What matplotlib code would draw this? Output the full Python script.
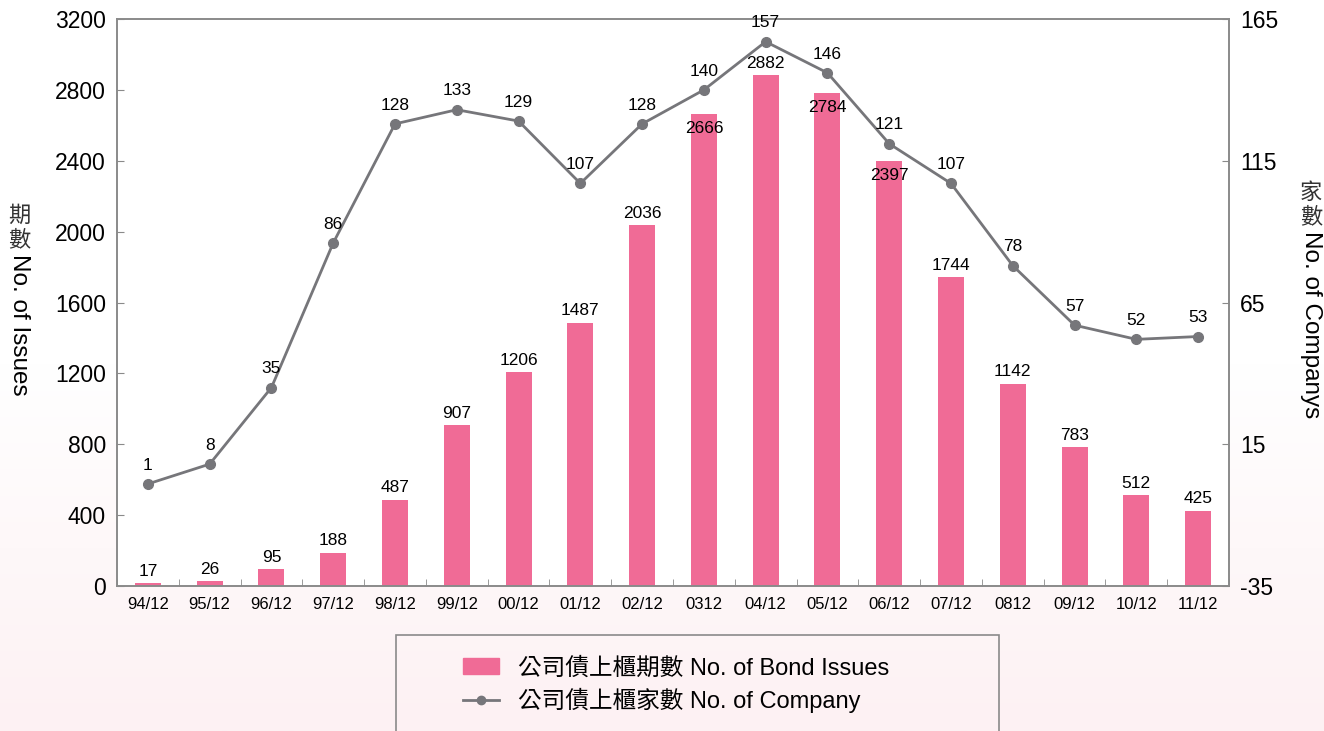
import numpy as np
import matplotlib.pyplot as plt
from matplotlib.patches import Rectangle
from matplotlib.lines import Line2D
from matplotlib.colors import LinearSegmentedColormap

plt.rcParams['font.family'] = ['Liberation Sans', 'Noto Sans CJK TC']
plt.rcParams['axes.unicode_minus'] = False

# 資料
periods = ['94/12', '95/12', '96/12', '97/12', '98/12', '99/12', '00/12', '01/12', '02/12',
           '0312', '04/12', '05/12', '06/12', '07/12', '0812', '09/12', '10/12', '11/12']
issues = [17, 26, 95, 188, 487, 907, 1206, 1487, 2036, 2666, 2882, 2784, 2397, 1744, 1142, 783, 512, 425]
companies = [1, 8, 35, 86, 128, 133, 129, 107, 128, 140, 157, 146, 121, 107, 78, 57, 52, 53]
inside_labels = ['0312', '05/12', '06/12']  # 標籤放在柱內

bar_color = '#F06B96'
line_color = '#76767A'
spine_color = '#8A8A8A'

fig = plt.figure(figsize=(13.24, 7.31), dpi=100)

# 背景漸層 (白 -> 淡粉)
bg = fig.add_axes([0, 0, 1, 1], zorder=-10)
grad = np.linspace(0, 1, 256).reshape(-1, 1)
cmap = LinearSegmentedColormap.from_list('bg', ['#FFFFFF', '#FFFFFF', '#FDF1F3'])
bg.imshow(grad, aspect='auto', cmap=cmap, extent=[0, 1, 0, 1])
bg.axis('off')

ax = fig.add_axes([117 / 1324, 1 - 586 / 731, (1229 - 117) / 1324, (586 - 19) / 731])
ax.set_facecolor('white')
x = np.arange(len(periods))
ax.bar(x, issues, width=0.42, color=bar_color, zorder=2)
ax.set_xlim(-0.5, len(periods) - 0.5)
ax.set_ylim(0, 3200)
ax.set_yticks(range(0, 3201, 400))
ax.set_xticks(x)
ax.set_xticklabels(periods, fontsize=12)
ax.set_xticks(np.arange(-0.5, len(periods), 1), minor=True)
ax.tick_params(axis='x', which='major', length=0, pad=8)
ax.tick_params(axis='x', which='minor', length=5, direction='in', color=spine_color)
ax.tick_params(axis='y', labelsize=16.5, length=5, direction='in', color=spine_color, pad=8)
for s in ax.spines.values():
    s.set_color(spine_color)
    s.set_linewidth(1.2)

for xi, v, p in zip(x, issues, periods):
    if p in inside_labels:
        ax.text(xi, v - 40, str(v), ha='center', va='top', fontsize=12.5, zorder=5)
    else:
        ax.text(xi, v + 25, str(v), ha='center', va='bottom', fontsize=12.5, zorder=5)

ax2 = ax.twinx()
ax2.plot(x, companies, color=line_color, linewidth=2, marker='o', markersize=7, zorder=3)
ax2.set_ylim(-35, 165)
ax2.set_yticks(range(-35, 166, 50))
ax2.tick_params(axis='y', labelsize=16.5, length=5, direction='in', color=spine_color, pad=8)
for s in ax2.spines.values():
    s.set_color(spine_color)
    s.set_linewidth(1.2)
for xi, v in zip(x, companies):
    ax2.text(xi, v + 4, str(v), ha='center', va='bottom', fontsize=12.5)

# 軸標題: 中文直排 + 英文旋轉
def axis_title(xpx, ypx, cjk, eng):
    for i, ch in enumerate(cjk):
        fig.text(xpx / 1324, 1 - (ypx + i * 25) / 731, ch, ha='center', va='center',
                 fontsize=16, color='#333333')
    fig.text(xpx / 1324, 1 - (ypx + len(cjk) * 25 - 12) / 731, eng, rotation=270,
             ha='center', va='top', fontsize=17.5)

axis_title(19, 216, '期數', 'No. of Issues')
axis_title(1311, 193, '家數', 'No. of Companys')

# 圖例框 (底部被截斷)
box = Rectangle((396 / 1324, -0.1), (999 - 396) / 1324, 0.1 + 1 - 635 / 731,
                transform=fig.transFigure, facecolor='none', edgecolor=spine_color,
                linewidth=1.2, zorder=5)
fig.add_artist(box)
handles = [Rectangle((0, 0), 1, 1, color=bar_color),
           Line2D([], [], color=line_color, linewidth=2, marker='o', markersize=6)]
labels = ['公司債上櫃期數 No. of Bond Issues', '公司債上櫃家數 No. of Company']
fig.legend(handles, labels, loc='center left', bbox_to_anchor=(442 / 1324, 1 - 685 / 731),
           frameon=False, fontsize=17, handlelength=1.5, handletextpad=0.8, labelspacing=0.35)

fig.savefig('out.png', dpi=100)
